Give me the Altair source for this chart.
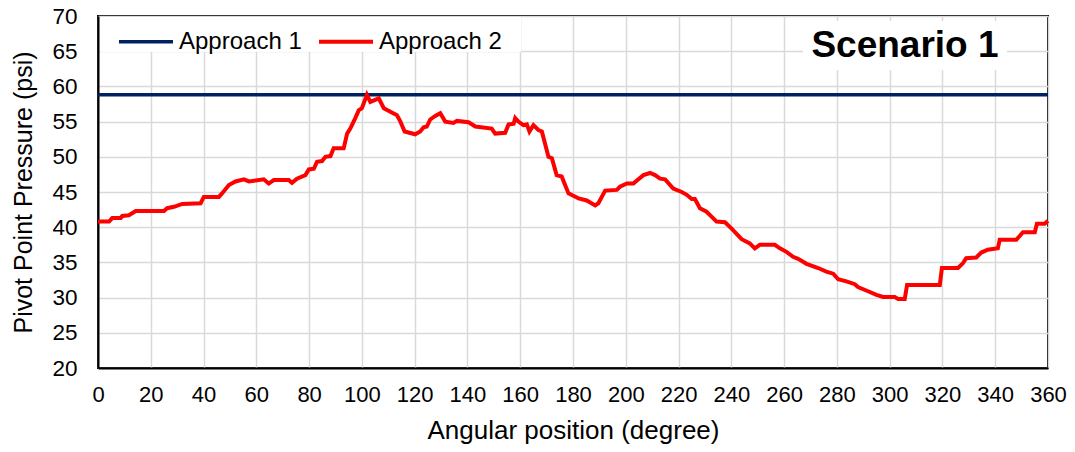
import altair as alt
import pandas as pd

# Approach 2 (red) readings: angular position (deg) and pressure (psi)
deg2 = [0, 4.2, 5.4, 8.6, 9.2, 11.7, 14.3, 25, 26.2, 28.8, 31.9, 38.9, 40.1, 45.8, 47,
        49.6, 52.1, 55.3, 57.2, 62.8, 64.7, 66.6, 72.3, 73.5, 75.4, 78.6, 79.9, 81.8, 83,
        84.9, 86.2, 88.1, 89.3, 93.1, 94.4, 95.6, 97.5, 98.8, 100, 101.9, 103.2, 106.4,
        108.3, 110.8, 113.3, 114.6, 116.2, 120.2, 122.1, 123.4, 124.6, 125.9, 127.8, 129.7,
        131.6, 134.7, 136, 140.4, 143, 149.2, 150.5, 154.3, 155.6, 157.5, 158.1, 159.3,
        161.2, 162.5, 163.5, 165, 166.9, 168.2, 170.7, 172, 173.8, 175.7, 178.3, 180.5,
        182.1, 185.2, 188.4, 189.6, 192.2, 196.6, 197.8, 200.4, 202.9, 204.1, 206.7, 209.2,
        211.1, 213, 214.9, 218, 221.2, 223.1, 225, 226.2, 228.1, 230.6, 232.5, 234.4, 237.6,
        240.1, 243.9, 247, 248.9, 250.8, 256.5, 258.4, 260.9, 263.4, 265.3, 268.5, 272.9,
        276, 278.6, 280.5, 283.6, 286.8, 288, 291.8, 295, 297.5, 301.9, 303.2, 305.7, 306.6,
        319, 319.8, 325.9, 327.8, 329, 332.8, 334.7, 337.2, 341, 341.7, 348, 350.5, 355,
        355.8, 358.7, 360]
psi2 = [40.8, 40.8, 41.3, 41.3, 41.6, 41.7, 42.3, 42.3, 42.7, 42.9, 43.3, 43.4, 44.3, 44.3, 44.8,
        46.0, 46.5, 46.8, 46.5, 46.8, 46.2, 46.7, 46.7, 46.3, 46.9, 47.4, 48.2, 48.3, 49.3,
        49.4, 50.0, 50.1, 51.2, 51.2, 53.3, 54.0, 55.5, 56.6, 56.9, 58.8, 57.8, 58.3,
        56.9, 56.4, 55.9, 55.0, 53.6, 53.2, 53.6, 54.2, 54.3, 55.3, 55.8, 56.2,
        55.0, 54.8, 55.1, 54.9, 54.3, 54.0, 53.3, 53.4, 54.6, 54.7, 55.5, 55.0,
        54.5, 54.6, 53.6, 54.5, 53.8, 53.6, 50.0, 49.8, 47.4, 47.2, 44.8, 44.4,
        44.1, 43.8, 43.1, 43.4, 45.2, 45.3, 45.75, 46.2, 46.2, 46.6, 47.4, 47.7,
        47.4, 46.9, 46.8, 45.5, 45.0, 44.6, 44.0, 44.0, 42.7, 42.2, 41.5, 40.8, 40.7,
        39.8, 38.3, 37.7, 37.0, 37.5, 37.5, 37.0, 36.5, 35.8, 35.5, 34.8, 34.2,
        33.7, 33.4, 32.6, 32.3, 31.9, 31.5, 30.9, 30.4, 30.1, 30.1, 29.8, 29.8, 31.8,
        31.8, 34.2, 34.2, 34.9, 35.6, 35.7, 36.4, 36.8, 37.0, 38.2, 38.2, 39.3, 39.3,
        40.5, 40.5, 40.9]

# Approach 1 (navy): constant pressure
deg1 = [0, 360]
psi1 = [58.8, 58.8]

series_names = ["Approach 1", "Approach 2"]
series_colors = ["#002060", "#FF0000"]
series_widths = [3.5, 4]
x_ticks = list(range(0, 361, 20))
y_ticks = list(range(20, 71, 5))

df = pd.concat([
    pd.DataFrame({"deg": deg1, "psi": psi1, "series": series_names[0], "order": range(len(deg1))}),
    pd.DataFrame({"deg": deg2, "psi": psi2, "series": series_names[1], "order": range(len(deg2))}),
])

FONT = "Liberation Sans"

lines = alt.Chart(df).mark_line().encode(
    x=alt.X("deg:Q", scale=alt.Scale(domain=[0, 360], nice=False),
            axis=alt.Axis(values=x_ticks, title="Angular position (degree)",
                          ticks=False, labelPadding=16, titlePadding=12,
                          labelOverlap=False, labelFlush=False,
                          labelFontSize=22, titleFontSize=26, grid=True)),
    y=alt.Y("psi:Q", scale=alt.Scale(domain=[20, 70], nice=False),
            axis=alt.Axis(values=y_ticks, title="Pivot Point Pressure (psi)",
                          ticks=False, labelPadding=21, titlePadding=15,
                          labelOverlap=False, labelFlush=False,
                          labelFontSize=22.5, titleFontSize=25, grid=True)),
    color=alt.Color("series:N", scale=alt.Scale(domain=series_names, range=series_colors),
                    legend=alt.Legend(title=None, orient="none", legendX=19, legendY=-3.3,
                                      direction="horizontal", padding=0,
                                      symbolType="stroke", symbolSize=2916,
                                      symbolStrokeWidth=3.5, labelFontSize=24,
                                      columnPadding=9, labelLimit=300, labelOffset=4)),
    strokeWidth=alt.StrokeWidth("series:N", scale=alt.Scale(domain=series_names, range=series_widths),
                                legend=None),
    order="order:Q",
    detail="series:N",
)

one = pd.DataFrame({"a": [0]})
legend_box = alt.Chart(one).mark_rect(color="white").encode(
    x=alt.value(2), x2=alt.value(423), y=alt.value(1), y2=alt.value(36))
title_box = alt.Chart(one).mark_rect(color="white").encode(
    x=alt.value(705), x2=alt.value(909), y=alt.value(5), y2=alt.value(54))

label = alt.Chart(pd.DataFrame({"t": ["Scenario 1"]})).mark_text(
    fontSize=37, fontWeight="bold", font=FONT, color="black", align="center", baseline="middle"
).encode(x=alt.value(807), y=alt.value(30), text="t:N")

chart = alt.layer(legend_box, title_box, lines, label).properties(
    width=950, height=352,
    autosize=alt.AutoSizeParams(type="none"),
    padding={"left": 90, "top": 8, "right": 19, "bottom": 80},
).configure(font=FONT).configure_axis(
    labelFont=FONT, titleFont=FONT, labelColor="black", titleColor="black",
    titleFontWeight="normal", gridColor="#d9d9d9", gridWidth=1.5,
    domainColor="black", domainWidth=2,
).configure_view(stroke="black", strokeWidth=2).configure_legend(
    labelFont=FONT, labelColor="black")

chart.save("out.html", embed_options={"renderer": "svg", "actions": False})
